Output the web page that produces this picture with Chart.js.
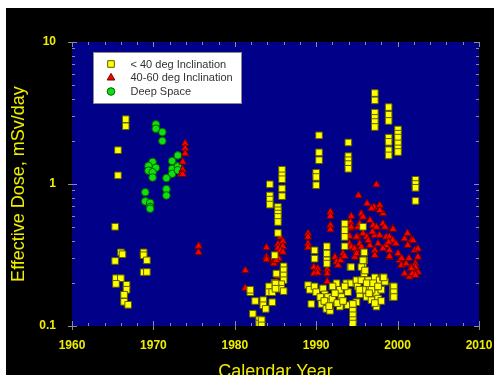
<!DOCTYPE html>
<html><head><meta charset="utf-8">
<script src="https://cdn.jsdelivr.net/npm/chart.js@4.4.1/dist/chart.umd.min.js"></script>
<style>
html,body{margin:0;padding:0;background:#fff;width:494px;height:375px;overflow:hidden}
#wrap{position:absolute;left:6px;top:8px;width:488px;height:367px;background:#000}
canvas{display:block}
</style></head><body>
<div id="wrap"><canvas id="c" width="488" height="367"></canvas></div>
<script>
// ---- data: [calendar year, effective dose mSv/day] ----
const seriesNames = ['< 40 deg Inclination', '40-60 deg Inclination', 'Deep Space'];

const lowIncPoints = [
  [1966.6,2.86],[1966.6,2.55],[1965.65,1.73],[1965.65,1.15],[1965.3,0.50],[1966.0,0.33],[1966.2,0.32],
  [1965.3,0.287],[1968.8,0.33],[1968.8,0.315],[1969.2,0.29],[1968.8,0.239],[1969.2,0.24],[1965.4,0.217],
  [1966.0,0.217],[1965.4,0.198],[1966.7,0.195],[1966.7,0.18],[1966.4,0.166],[1966.4,0.148],[1966.9,0.141],
  [1985.8,1.26],[1985.8,1.15],[1985.8,1.08],[1985.8,0.93],[1985.8,0.82],[1984.3,0.995],[1984.3,0.83],
  [1984.3,0.776],[1984.3,0.716],[1985.3,0.689],[1985.3,0.653],[1985.3,0.619],[1985.3,0.586],[1985.3,0.54],
  [1985.3,0.452],[1984.9,0.315],[1986.0,0.263],[1986.0,0.247],[1986.0,0.227],[1986.0,0.21],[1985.7,0.197],
  [1985.7,0.183],[1986.0,0.176],[1985.1,0.234],[1984.9,0.201],[1984.2,0.19],[1984.2,0.173],[1984.6,0.173],
  [1984.6,0.147],[1985.0,0.199],[1985.0,0.183],[1983.5,0.152],[1983.5,0.14],[1983.8,0.132],[1982.5,0.15],
  [1982.2,0.122],[1983.0,0.111],[1983.0,0.104],[1983.3,0.11],[1983.3,0.101],[1981.9,0.173],[1981.9,0.18],
  [1990.35,2.2],[1990.35,1.67],[1990.35,1.47],[1990.0,1.2],[1990.0,1.12],[1990.0,0.98],[1993.95,1.96],
  [1993.95,1.57],[1993.95,1.47],[1993.95,1.38],[1993.95,1.28],[1993.5,0.526],[1993.5,0.472],[1993.5,0.424],
  [1993.5,0.364],[1989.8,0.341],[1989.8,0.298],[1991.3,0.364],[1991.3,0.324],[1991.3,0.29],[1991.3,0.275],
  [1994.2,0.26],[1989.0,0.194],[1989.2,0.18],[1989.8,0.19],[1990.0,0.173],[1990.85,0.184],[1991.05,0.167],
  [1991.45,0.16],[1991.7,0.147],[1992.5,0.2],[1992.9,0.18],[1993.1,0.16],[1993.7,0.2],[1993.9,0.173],
  [1994.3,0.2],[1994.95,0.2],[1995.35,0.167],[1989.4,0.143],[1990.65,0.143],[1991.25,0.132],[1991.7,0.128],
  [1992.9,0.137],[1993.9,0.14],[1994.95,0.147],[1990.5,0.16],[1991.0,0.15],[1991.6,0.138],[1992.0,0.155],
  [1992.3,0.17],[1992.6,0.145],[1993.3,0.15],[1993.5,0.19],[1992.0,0.19],
  [1994.5,0.143],[1994.5,0.128],[1994.5,0.119],[1994.5,0.11],[1994.5,0.104],
  [1997.2,4.37],[1997.2,3.88],[1997.2,3.18],[1997.2,2.92],[1997.2,2.73],[1997.2,2.52],[1998.9,3.48],
  [1998.9,3.08],[1998.9,2.78],[1998.9,2.12],[1998.9,1.98],[1998.9,1.73],[1998.9,1.59],[2000.05,2.42],
  [2000.05,2.26],[2000.05,2.12],[2000.05,1.93],[2000.05,1.78],[2000.05,1.68],[2002.2,1.07],[2002.2,1.0],
  [2002.2,0.94],[2002.2,0.76],
  [1995.75,0.5],[1995.9,0.33],[1995.9,0.29],[1995.75,0.27],[1995.9,0.235],[1995.75,0.21],
  [1994.3,0.26],[1994.95,0.21],[1995.1,0.19],[1995.55,0.26],[1995.75,0.29],[1996.0,0.246],[1995.55,0.21],
  [1995.75,0.18],[1996.2,0.16],[1996.4,0.21],[1996.6,0.19],[1996.8,0.152],[1997.2,0.22],[1997.4,0.17],
  [1997.6,0.156],[1997.8,0.21],[1998.0,0.18],[1998.2,0.22],[1998.45,0.205],[1997.4,0.137],[1999.4,0.19],
  [1999.4,0.17],[1999.4,0.16],[1995.3,0.18],[1996.2,0.2],[1996.8,0.18],[1997.0,0.2],[1997.6,0.19],
  [1998.0,0.15],[1997.2,0.145],[1996.5,0.17],[1999.55,0.19],[1999.55,0.173],[1999.55,0.16],[1998.3,0.22]
];

const midIncPoints = [
  [1973.9,1.93],[1973.9,1.78],[1973.9,1.64],[1973.6,1.43],[1973.6,1.26],[1973.4,1.17],[1973.6,1.17],
  [1975.55,0.366],[1975.55,0.33],[1981.3,0.246],[1981.3,0.185],
  [1983.9,0.357],[1983.9,0.306],[1983.9,0.294],[1984.8,0.30],[1984.8,0.285],[1984.8,0.275],[1985.6,0.424],
  [1985.9,0.395],[1985.3,0.376],[1985.9,0.364],[1985.3,0.354],[1985.6,0.341],[1985.9,0.332],[1985.4,0.298],
  [1985.1,0.29],[1985.3,0.224],
  [1989.0,0.448],[1989.0,0.424],[1989.0,0.38],[1989.0,0.357],[1991.75,0.635],[1991.75,0.593],[1991.75,0.512],
  [1991.75,0.477],[1989.7,0.26],[1990.2,0.253],[1989.7,0.234],[1990.2,0.237],[1991.35,0.25],[1991.35,0.234],
  [1991.35,0.206],[1992.3,0.306],[1992.5,0.282],[1992.7,0.268],[1993.0,0.29],[1993.3,0.324],[1993.5,0.31],
  [1994.3,0.593],[1994.2,0.54],[1994.1,0.485],[1994.1,0.428],[1994.1,0.38],[1994.3,0.36],[1995.1,0.498],
  [1995.1,0.424],[1994.95,0.341],[1994.75,0.306],[1995.2,0.83],
  [1997.4,0.99],[1996.25,0.728],[1997.1,0.689],[1997.8,0.708],[1998.2,0.619],[1997.8,0.653],[1996.8,0.671],
  [1996.6,0.555],[1995.55,0.619],[1995.75,0.586],[1994.3,0.498],[1995.35,0.526],[1997.0,0.512],[1998.2,0.526],
  [1997.4,0.498],[1998.45,0.498],[1999.4,0.485],[1997.2,0.436],[1997.8,0.436],[1998.6,0.424],[1994.95,0.424],
  [1995.75,0.448],[1996.2,0.424],[1999.0,0.424],[1999.4,0.402],[1995.35,0.38],[1996.6,0.37],[1997.6,0.38],
  [1998.6,0.37],[1999.8,0.38],[2001.25,0.448],[2000.85,0.412],[2001.7,0.402],[1994.7,0.351],[1995.55,0.36],
  [1996.0,0.332],[1997.2,0.341],[1998.2,0.351],[1999.0,0.341],[2001.25,0.37],[2002.1,0.341],[2000.05,0.324],
  [2000.25,0.29],[2000.45,0.268],[2001.05,0.275],[2001.7,0.26],[2002.3,0.246],[2000.85,0.234],[2001.45,0.222],
  [2002.5,0.24],[1999.0,0.306],[1997.2,0.315],[1994.95,0.324],[2002.5,0.35],[2002.5,0.306],[2002.2,0.275],
  [2002.2,0.26],[2002.0,0.246],[2001.8,0.234],[2002.2,0.228],[2001.7,0.254],[2001.2,0.45],[2001.9,0.40],
  [1999.45,0.48],[1999.0,0.31],[1996.9,0.46],[1996.4,0.40],[1998.9,0.39],[2000.5,0.30],[2001.4,0.30]
];

const deepSpacePoints = [
  [1970.3,2.63],[1970.3,2.45],[1971.1,2.32],[1971.1,2.01],[1973.0,1.59],[1969.9,1.43],[1972.3,1.45],
  [1969.4,1.34],[1970.3,1.30],[1969.4,1.24],[1969.9,1.21],[1969.9,1.11],[1972.3,1.28],[1973.0,1.33],
  [1972.3,1.18],[1973.0,1.25],[1971.6,1.10],[1969.0,0.875],[1971.6,0.92],[1971.6,0.83],[1969.0,0.755],
  [1969.6,0.735],[1969.6,0.69],[1969.6,0.67]
];

const xTickValues = [1960,1962,1964,1966,1968,1970,1972,1974,1976,1978,1980,1982,1984,1986,1988,1990,
  1992,1994,1996,1998,2000,2002,2004,2006,2008,2010];
const xTickLabels = ['1960','1970','1980','1990','2000','2010'];
const yTickValues = [0.1,0.2,0.3,0.4,0.5,0.6,0.7,0.8,0.9,1,2,3,4,5,6,7,8,9,10];
const yTickLabels = ['0.1','1','10'];

// ---- style ----
const YEL = '#eeee00';
const FONT = '"Liberation Sans", Arial, sans-serif';
const toXY = pts => pts.map(p => ({x: p[0], y: p[1]}));

const plotBg = {
  id: 'plotBg',
  beforeDraw(chart) {
    const {ctx, chartArea: a} = chart;
    ctx.save();
    ctx.fillStyle = '#000088';
    ctx.fillRect(a.left, a.top, a.right - a.left, a.bottom - a.top);
    ctx.restore();
  }
};

const innerTicks = {
  id: 'innerTicks',
  afterDatasetsDraw(chart) {
    const {ctx, chartArea: a, scales: {x, y}} = chart;
    ctx.save();
    ctx.strokeStyle = '#8c8c8c';
    ctx.lineWidth = 1;
    ctx.beginPath();
    x.ticks.forEach(t => {
      const px = Math.round(x.getPixelForValue(t.value)) + 0.5;
      const major = t.value % 10 === 0;
      const len = major ? 5 : 3;
      ctx.moveTo(px, a.bottom + (major ? 4 : 0)); ctx.lineTo(px, a.bottom - len);
      ctx.moveTo(px, a.top); ctx.lineTo(px, a.top + len);
    });
    y.ticks.forEach(t => {
      const py = Math.round(y.getPixelForValue(t.value)) + 0.5;
      const major = yTickLabels.includes(String(t.value));
      const len = major ? 5 : 3;
      ctx.moveTo(a.left - (major ? 4 : 0), py); ctx.lineTo(a.left + len, py);
      ctx.moveTo(a.right, py); ctx.lineTo(a.right - len, py);
    });
    ctx.stroke();
    ctx.restore();
  }
};

const boxLegend = {
  id: 'boxLegend',
  afterDraw(chart) {
    const {ctx, chartArea: a} = chart;
    const bx = Math.round(a.left + 21) + 0.5, by = Math.round(a.top + 10) + 0.5;
    const bw = 148, bh = 51;
    ctx.save();
    ctx.fillStyle = '#ffffff';
    ctx.fillRect(bx, by, bw, bh);
    ctx.strokeStyle = '#8a8a8a';
    ctx.lineWidth = 1;
    ctx.strokeRect(bx, by, bw, bh);
    const rows = [11.5, 25.3, 39];
    chart.data.datasets.forEach((ds, i) => {
      const cx = bx + 17.5, cy = by + rows[i];
      const opts = {pointStyle: ds.pointStyle, radius: ds.pointRadius, rotation: 0, borderWidth: ds.borderWidth};
      ctx.fillStyle = ds.backgroundColor;
      ctx.strokeStyle = ds.borderColor;
      ctx.lineWidth = ds.borderWidth;
      Chart.helpers.drawPoint(ctx, opts, cx, cy);
      ctx.fillStyle = '#333333';
      ctx.font = '11px ' + FONT;
      ctx.textBaseline = 'middle';
      ctx.textAlign = 'left';
      ctx.fillText(ds.label, bx + 37, cy + 0.5);
    });
    ctx.restore();
  }
};

new Chart(document.getElementById('c'), {
  type: 'scatter',
  data: {
    datasets: [
      {label: seriesNames[0], data: toXY(lowIncPoints), pointStyle: 'rect', pointRadius: 4.7,
       backgroundColor: '#ffff00', borderColor: '#5e5e00', borderWidth: 1},
      {label: seriesNames[1], data: toXY(midIncPoints), pointStyle: 'triangle', pointRadius: 4.4,
       backgroundColor: '#ff0000', borderColor: '#6e0000', borderWidth: 1},
      {label: seriesNames[2], data: toXY(deepSpacePoints), pointStyle: 'circle', pointRadius: 3.8,
       backgroundColor: '#11dd11', borderColor: '#006400', borderWidth: 1}
    ]
  },
  options: {
    responsive: false,
    animation: false,
    events: [],
    layout: {padding: {top: 34, right: 15, left: 0, bottom: 0}},
    plugins: {legend: {display: false}, tooltip: {enabled: false}},
    scales: {
      x: {
        type: 'linear', min: 1960, max: 2010,
        afterBuildTicks: s => { s.ticks = xTickValues.map(v => ({value: v})); },
        afterFit: s => { s.height = 49; s.paddingLeft = 0; s.paddingRight = 0; },
        grid: {display: false},
        border: {display: false},
        ticks: {
          autoSkip: false, maxRotation: 0, padding: 4, color: YEL,
          font: {family: FONT, size: 12, weight: 'bold'},
          callback: v => xTickLabels.includes(String(v)) ? String(v) : ''
        },
        title: {display: true, text: 'Calendar Year', color: YEL,
          font: {family: FONT, size: 18}, padding: {top: 0, bottom: -7.5}}
      },
      y: {
        type: 'logarithmic', min: 0.1, max: 10,
        afterBuildTicks: s => { s.ticks = yTickValues.map(v => ({value: v})); },
        afterFit: s => { s.width = 66; s.paddingTop = 0; s.paddingBottom = 0; },
        grid: {display: false},
        border: {display: false},
        ticks: {
          autoSkip: false, padding: 8, color: YEL,
          font: {family: FONT, size: 12, weight: 'bold'},
          callback: v => yTickLabels.includes(String(v)) ? String(v) : ''
        },
        title: {display: true, text: 'Effective Dose, mSv/day', color: YEL,
          font: {family: FONT, size: 18}, padding: {top: 2.7, bottom: 0}}
      }
    }
  },
  plugins: [plotBg, innerTicks, boxLegend]
});
</script></body></html>
